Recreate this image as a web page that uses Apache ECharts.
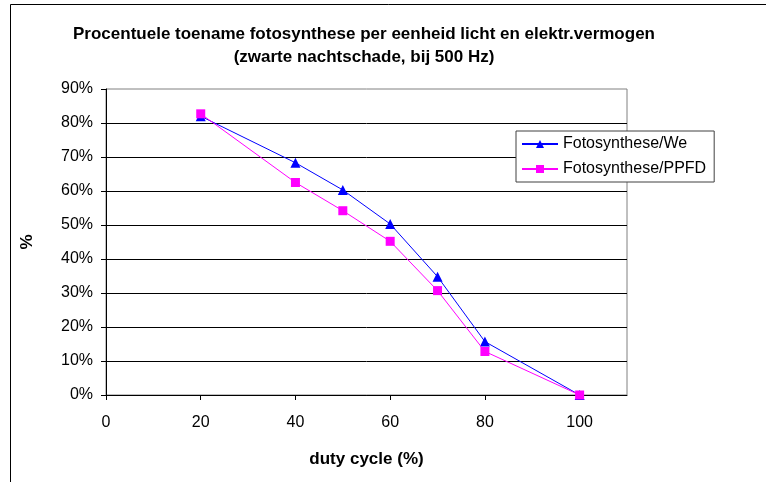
<!DOCTYPE html>
<html>
<head>
<meta charset="utf-8">
<script src="https://cdn.jsdelivr.net/npm/echarts@6/dist/echarts.min.js"></script>
<style>
  html, body { margin: 0; padding: 0; background: #fff; }
  #main { width: 766px; height: 482px; }
</style>
</head>
<body>
<div id="main"></div>
<script>
// duty cycle (%) op de x-as
var dutyCycle = [20, 40, 50, 60, 70, 80, 100];
// procentuele toename
var fotoWe = [82, 68.3, 60.3, 50.3, 34.8, 15.7, 0];
var fotoPPFD = [82.7, 62.5, 54.2, 45.2, 30.7, 12.8, 0];
var xTicks = [0, 20, 40, 60, 80, 100];

var font = 'Liberation Sans, Arial, sans-serif';

function pairs(xs, ys) {
    var out = [];
    for (var i = 0; i < xs.length; i++) out.push([xs[i], ys[i]]);
    return out;
}

var myChart = echarts.init(document.getElementById('main'));

var option = {
    animation: false,
    backgroundColor: '#fff',
    graphic: [
        {
            type: 'rect',
            shape: { x: 10.5, y: 4.5, width: 900, height: 600 },
            style: { fill: null, stroke: '#000', lineWidth: 1 },
            silent: true
        },
        {
            type: 'text',
            x: 364,
            y: 23,
            style: {
                text: 'Procentuele toename fotosynthese per eenheid licht en elektr.vermogen\n(zwarte nachtschade, bij 500 Hz)',
                textAlign: 'center',
                font: 'bold 17px ' + font,
                lineHeight: 23,
                fill: '#000'
            }
        }
    ],
    grid: {
        left: 106,
        right: 139,
        top: 89,
        bottom: 87,
        show: true,
        borderColor: '#808080',
        borderWidth: 1,
        backgroundColor: '#fff'
    },
    legend: {
        orient: 'vertical',
        left: 516,
        top: 131,
        backgroundColor: '#fff',
        borderColor: '#404040',
        borderWidth: 1,
        borderRadius: 0,
        padding: [5, 8, 5, 5],
        itemWidth: 36,
        itemHeight: 10,
        itemGap: 9,
        textStyle: { fontFamily: font, fontSize: 16, color: '#000' },
        data: ['Fotosynthese/We', 'Fotosynthese/PPFD']
    },
    xAxis: {
        type: 'value',
        min: 0,
        max: 110,
        interval: 20,
        name: 'duty cycle (%)',
        nameLocation: 'middle',
        nameGap: 56,
        nameTextStyle: { fontFamily: font, fontSize: 17, fontWeight: 'bold', color: '#000' },
        axisLine: { show: true, lineStyle: { color: '#000', width: 1 } },
        axisTick: { show: true, length: 5, lineStyle: { color: '#000' }, customValues: xTicks },
        axisLabel: { fontFamily: font, fontSize: 16, color: '#000', margin: 20, customValues: xTicks },
        splitLine: { show: false }
    },
    yAxis: {
        type: 'value',
        min: 0,
        max: 90,
        interval: 10,
        name: '%',
        nameLocation: 'middle',
        nameRotate: 90,
        nameGap: 70,
        nameTextStyle: { fontFamily: font, fontSize: 17, fontWeight: 'bold', color: '#000' },
        axisLine: { show: true, lineStyle: { color: '#000', width: 1 } },
        axisTick: { show: true, length: 5, inside: false, lineStyle: { color: '#000' } },
        axisLabel: { fontFamily: font, fontSize: 16, color: '#000', margin: 13, formatter: '{value}%' },
        splitLine: { show: true, showMaxLine: false, lineStyle: { color: '#000', width: 1 } }
    },
    series: [
        {
            name: 'Fotosynthese/We',
            type: 'line',
            data: pairs(dutyCycle, fotoWe),
            symbol: 'triangle',
            symbolSize: 10,
            color: '#0000FF',
            lineStyle: { color: '#0000FF', width: 1 },
            itemStyle: { color: '#0000FF' },
            z: 3
        },
        {
            name: 'Fotosynthese/PPFD',
            type: 'line',
            data: pairs(dutyCycle, fotoPPFD),
            symbol: 'rect',
            symbolSize: 9,
            color: '#FF00FF',
            lineStyle: { color: '#FF00FF', width: 1 },
            itemStyle: { color: '#FF00FF' },
            z: 4
        }
    ]
};

myChart.setOption(option);
</script>
</body>
</html>
